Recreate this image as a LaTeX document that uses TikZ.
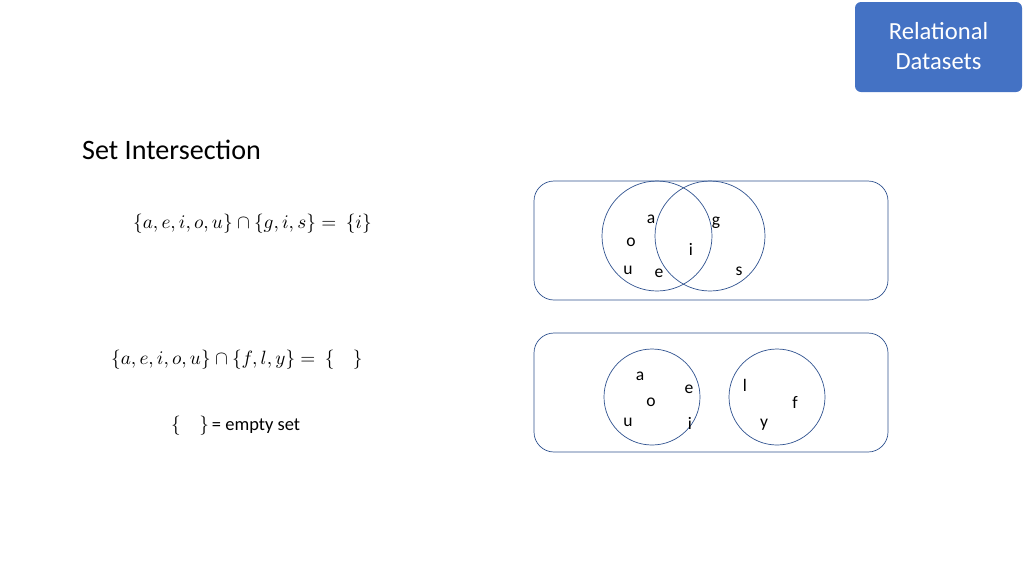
\documentclass[tikz,border=0pt]{standalone}
\usepackage{fontspec}
\setmainfont{Carlito}
\usetikzlibrary{positioning}
\definecolor{badge}{HTML}{4472C4}
\definecolor{setline}{HTML}{2F528F}
\begin{document}
\begin{tikzpicture}[x=0.02cm,y=-0.02cm,
  setbox/.style={draw=setline,rounded corners=0.4cm,thin},
  setcircle/.style={draw=setline,thin},
  elem/.style={font=\fontsize{10}{12}\selectfont},
  formula/.style={font=\fontsize{10.5}{12}\selectfont,anchor=west}]
\useasboundingbox (0,0) rectangle (1024,576);

% badge
\fill[badge,rounded corners=0.12cm] (855,2) rectangle (1022,92);
\node[text=white,align=center,font=\fontsize{14}{17}\selectfont] (badge) at (938.5,46) {Relational\\Datasets};

% title
\node[anchor=west,font=\fontsize{16}{19}\selectfont] (title) at (76,150) {Set Intersection};

% formulas
\node[formula] (f1) at (127,224) {$\{a,e,i,o,u\}\cap\{g,i,s\}=\ \{i\}$};
\node[formula] (f2) at (105,360) {$\{a,e,i,o,u\}\cap\{f,l,y\}=\ \{\quad\}$};
\node[formula] (f3) at (165,426) {$\{\quad\}$\,= empty set};

% first diagram
\draw[setbox] (534,181) rectangle (888,300);
\draw[setcircle] (657,236) circle (55);
\draw[setcircle] (710,236) circle (55);
\foreach \t/\x/\y in {a/651/219,o/631/242,u/628/270,e/659/273,i/691/249,g/716/223,s/739/271}
  \node[elem] (p\t) at (\x,\y) {\t};

% second diagram
\draw[setbox] (534,333) rectangle (888,452);
\draw[setcircle] (652,397) circle (48);
\draw[setcircle] (777,397) circle (48);
\foreach \t/\x/\y in {a/640/376,e/689/389,o/651/402,u/628/422,i/690/423,l/745/385,f/795/402,y/764/425}
  \node[elem] (q\t) at (\x,\y) {\t};
\end{tikzpicture}
\end{document}
